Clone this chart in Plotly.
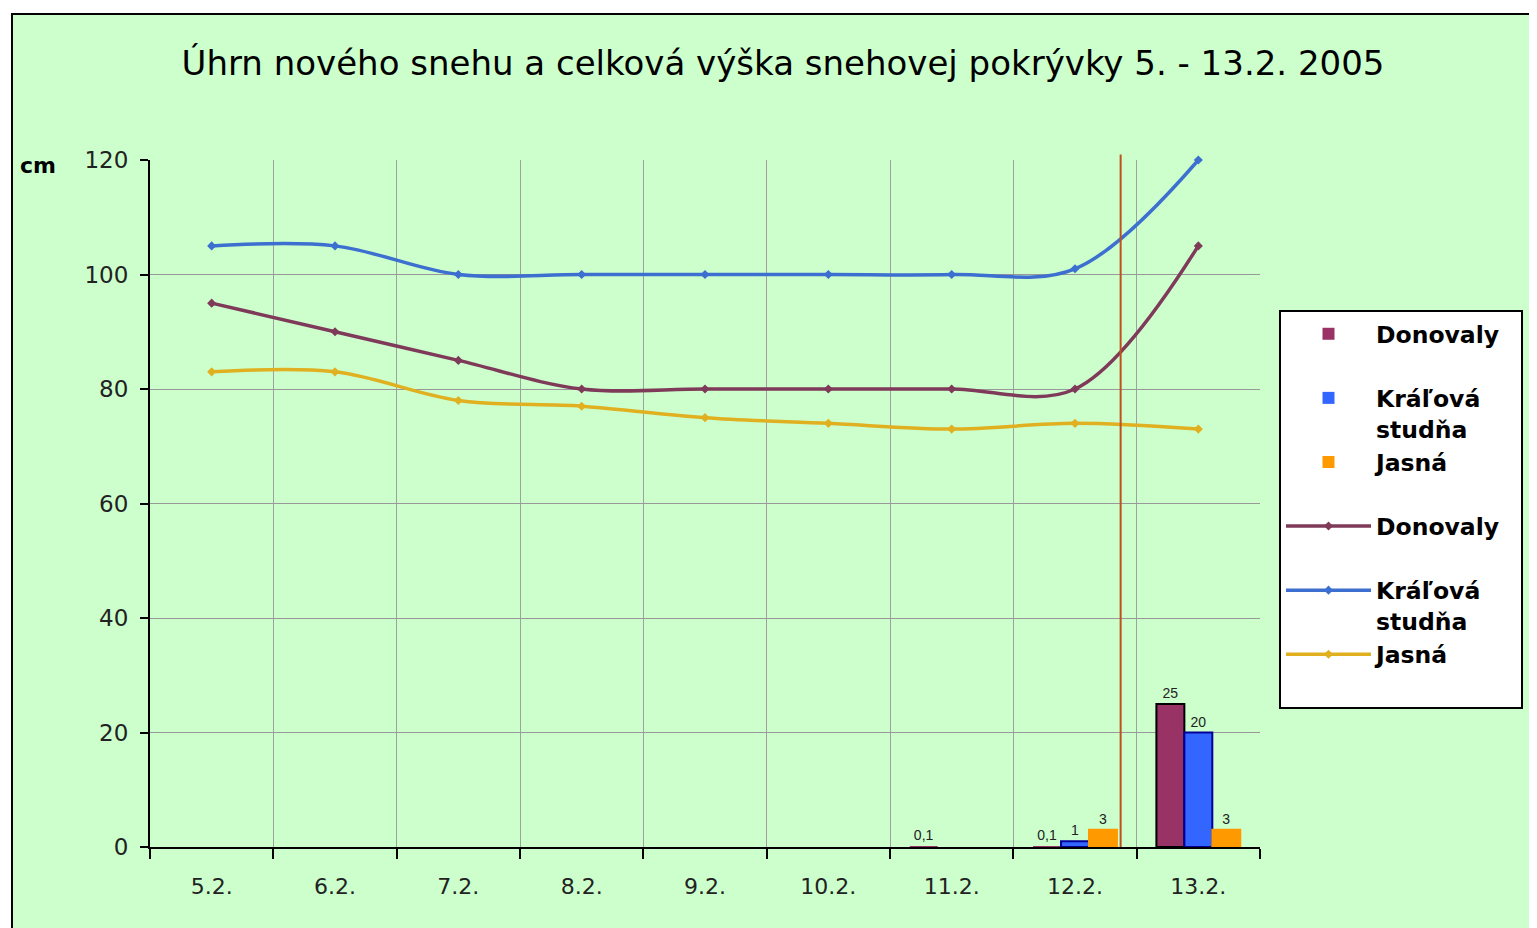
import plotly.graph_objects as go

# ---- data ----
days = ["5.2.", "6.2.", "7.2.", "8.2.", "9.2.", "10.2.", "11.2.", "12.2.", "13.2."]
new_donovaly = [0, 0, 0, 0, 0, 0, 0.1, 0.1, 25]
new_kralova = [0, 0, 0, 0, 0, 0, 0, 1, 20]
new_jasna = [0, 0, 0, 0, 0, 0, 0, 3, 3]
depth_donovaly = [95, 90, 85, 80, 80, 80, 80, 80, 105]
depth_kralova = [105, 105, 100, 100, 100, 100, 100, 101, 120]
depth_jasna = [83, 83, 78, 77, 75, 74, 73, 74, 73]
y_ticks = [0, 20, 40, 60, 80, 100, 120]
station_names = ["Donovaly", "Kráľová<br>studňa", "Jasná"]
marker_line_pos = 7.37  # red vertical reference line (category units)

BG = "#CCFFCC"
FONT = "DejaVu Sans"
bar_colors = ["#993366", "#3366FF", "#FF9900"]
bar_edges = ["#000000", "#000099", "#FF9900"]
line_colors = ["#7F3A5A", "#3C6FD0", "#E0B020"]

OFF = 8  # page body margin of the html page
W, H = 1537, 928
PL, PR, PT, PB = 150, 1260, 160, 847  # plot area on the page


def lbl(v):
    if not v:
        return ""
    return ("%g" % v).replace(".", ",")


def legend_name(name, pad=False):
    n = name if "<br>" in name else name + "<br>\u00a0"
    if pad:
        n = n.replace("<br>", "\u00a0" * 2 + "<br>", 1)
    return n


fig = go.Figure()

for i, (name, vals, col, edge) in enumerate(zip(station_names, [new_donovaly, new_kralova, new_jasna],
                                                bar_colors, bar_edges)):
    fig.add_trace(go.Bar(
        x=days, y=vals, name=legend_name(name, pad=(i == 0)),
        marker=dict(color=col, line=dict(color=edge, width=[2 if v >= 1 else 0 for v in vals])),
        text=[lbl(v) for v in vals], textposition="outside",
        textfont=dict(family="Liberation Sans", size=14, color="#222222"),
        cliponaxis=False,
    ))

for name, vals, col in zip(station_names, [depth_donovaly, depth_kralova, depth_jasna], line_colors):
    fig.add_trace(go.Scatter(
        x=days, y=vals, name=legend_name(name),
        mode="lines+markers",
        line=dict(color=col, width=3.5, shape="spline", smoothing=1),
        marker=dict(symbol="diamond", size=7, color=col),
        cliponaxis=False,
    ))

pw, ph = PR - PL, PB - PT
fig.add_shape(type="rect", xref="paper", yref="paper",
              x0=(12 - PL) / pw, x1=1.4, y0=-0.3, y1=(PB - 14) / ph,
              fillcolor=BG, line=dict(color="black", width=2), layer="below")
fig.add_shape(type="line", xref="x", yref="paper",
              x0=marker_line_pos, x1=marker_line_pos, y0=0, y1=1.008,
              line=dict(color="#C0501E", width=2))

fig.add_annotation(text="<b>cm</b>", xref="paper", yref="paper",
                   x=(38 - PL) / pw, y=(PB - 165) / ph, xanchor="center", yanchor="middle",
                   showarrow=False, font=dict(family=FONT, size=22, color="black"))

fig.update_layout(
    width=W, height=H, autosize=False,
    margin=dict(l=PL - OFF, r=W - PR + OFF, t=PT - OFF, b=H - PB + OFF, autoexpand=False),
    paper_bgcolor="white", plot_bgcolor=BG,
    barmode="group", bargap=0.32, bargroupgap=0,
    title=dict(text="Úhrn nového snehu a celková výška snehovej pokrývky 5. - 13.2. 2005",
               x=(783 - OFF) / W, xref="container", xanchor="center",
               y=1 - (63 - OFF) / H, yref="container", yanchor="middle",
               font=dict(family=FONT, size=34, color="black")),
    legend=dict(x=(1279 - PL) / pw, xanchor="left", y=(PB - 310) / ph, yanchor="top",
                bgcolor="white", bordercolor="black", borderwidth=2,
                font=dict(family=FONT, size=23.5, color="black", weight="bold"),
                tracegroupgap=0, valign="top", itemwidth=85),
    showlegend=True,
)

fig.update_xaxes(type="category", tickson="boundaries", ticks="outside", ticklen=10,
                 tickcolor="black", tickwidth=2, showline=True, linecolor="black", linewidth=2,
                 showgrid=True, gridcolor="#A0A0A0", gridwidth=1,
                 tickfont=dict(family=FONT, size=22, color="#222222"), ticklabelstandoff=19,
                 range=[-0.5, 8.5])
fig.update_yaxes(range=[0, 120], tickvals=y_ticks, ticks="outside", ticklen=8,
                 tickcolor="black", tickwidth=2, showline=True, linecolor="black", linewidth=2,
                 showgrid=True, gridcolor="#999999", gridwidth=1, zeroline=False,
                 tickfont=dict(family=FONT, size=23, color="#222222"), ticklabelstandoff=7)

fig.write_html("out.html")
